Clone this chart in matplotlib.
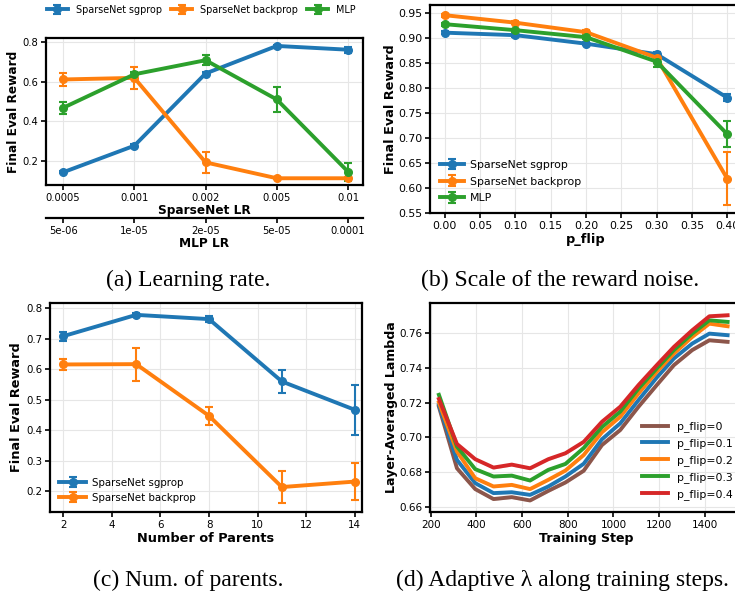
import matplotlib
matplotlib.use('Agg')
import matplotlib.pyplot as plt

W, H = 735, 592
BLUE, ORANGE, GREEN, RED, BROWN = '#1f77b4', '#ff7f0e', '#2ca02c', '#d62728', '#8c564b'

# (a) learning rate sweep
lr_sparse = ['0.0005', '0.001', '0.002', '0.005', '0.01']
lr_mlp = ['5e-06', '1e-05', '2e-05', '5e-05', '0.0001']
lr_sgprop = [0.143, 0.277, 0.641, 0.780, 0.761]
lr_sgprop_err = [0.005, 0.010, 0.010, 0.006, 0.016]
lr_backprop = [0.611, 0.619, 0.193, 0.113, 0.113]
lr_backprop_err = [0.033, 0.055, 0.053, 0.005, 0.005]
lr_mlp_reward = [0.468, 0.637, 0.708, 0.510, 0.146]
lr_mlp_err = [0.029, 0.010, 0.025, 0.063, 0.045]

# (b) reward noise
p_flip = [0.0, 0.1, 0.2, 0.3, 0.4]
noise_sgprop = [0.910, 0.905, 0.888, 0.867, 0.780]
noise_sgprop_err = [0.003, 0.003, 0.003, 0.004, 0.007]
noise_backprop = [0.945, 0.930, 0.911, 0.860, 0.618]
noise_backprop_err = [0.003, 0.003, 0.005, 0.010, 0.053]
noise_mlp = [0.927, 0.915, 0.901, 0.852, 0.707]
noise_mlp_err = [0.003, 0.003, 0.004, 0.010, 0.026]

# (c) number of parents
parents = [2, 5, 8, 11, 14]
par_sgprop = [0.709, 0.779, 0.765, 0.560, 0.467]
par_sgprop_err = [0.015, 0.007, 0.010, 0.038, 0.083]
par_backprop = [0.616, 0.617, 0.447, 0.213, 0.231]
par_backprop_err = [0.018, 0.054, 0.029, 0.054, 0.062]

# (d) layer-averaged lambda over training
steps = [236, 315, 395, 475, 555, 635, 715, 790, 870, 950, 1030, 1110, 1190, 1265, 1345, 1420, 1500]
lam_00 = [0.7176, 0.6824, 0.6705, 0.6648, 0.6659, 0.6640, 0.6695, 0.6743, 0.6810, 0.6957,
          0.7043, 0.7176, 0.7300, 0.7414, 0.7500, 0.7556, 0.7547]
lam_01 = [0.7186, 0.6872, 0.6739, 0.6682, 0.6687, 0.6672, 0.6720, 0.6777, 0.6850, 0.6990,
          0.7081, 0.7214, 0.7343, 0.7452, 0.7537, 0.7594, 0.7585]
lam_02 = [0.7200, 0.6920, 0.6767, 0.6720, 0.6729, 0.6705, 0.6758, 0.6811, 0.6900, 0.7030,
          0.7119, 0.7252, 0.7376, 0.7480, 0.7575, 0.7651, 0.7636]
lam_03 = [0.7244, 0.6948, 0.6819, 0.6777, 0.6782, 0.6754, 0.6815, 0.6849, 0.6940, 0.7060,
          0.7148, 0.7280, 0.7395, 0.7500, 0.7594, 0.7670, 0.7661]
lam_04 = [0.7220, 0.6963, 0.6876, 0.6828, 0.6845, 0.6824, 0.6876, 0.6910, 0.6975, 0.7090,
          0.7176, 0.7300, 0.7414, 0.7518, 0.7613, 0.7693, 0.7699]
lam_series = [lam_00, lam_01, lam_02, lam_03, lam_04]
lam_labels = ['p_flip=0', 'p_flip=0.1', 'p_flip=0.2', 'p_flip=0.3', 'p_flip=0.4']
lam_colors = [BROWN, BLUE, ORANGE, GREEN, RED]
lam_std = [0.0008, 0.0007, 0.0007, 0.0008, 0.0008]

fig = plt.figure(figsize=(W / 100, H / 100), dpi=100)


def add_axes_px(left, top, right, bottom):
    return fig.add_axes([left / W, 1 - bottom / H, (right - left) / W, (bottom - top) / H])


def style(ax, fs):
    for s in ax.spines.values():
        s.set_color('black')
        s.set_linewidth(1.6)
    ax.tick_params(direction='out', length=3.5, width=1.2, labelsize=fs, pad=2)
    ax.grid(True, color='#e6e6e6', linewidth=0.8)
    ax.set_axisbelow(True)


eb = dict(marker='o', markersize=5.5, linewidth=2.8, elinewidth=1.5, capsize=3, capthick=1.5)

# (a)
ax = add_axes_px(46, 38, 363, 185)
style(ax, 7.2)
xa = range(len(lr_sparse))
ax.errorbar(xa, lr_sgprop, yerr=lr_sgprop_err, color=BLUE, label='SparseNet sgprop', **eb)
ax.errorbar(xa, lr_backprop, yerr=lr_backprop_err, color=ORANGE, label='SparseNet backprop', **eb)
ax.errorbar(xa, lr_mlp_reward, yerr=lr_mlp_err, color=GREEN, label='MLP', **eb)
ax.set_xlim(-0.24, 4.21)
ax.set_ylim(0.079, 0.82)
ax.set_xticks(list(xa))
ax.set_xticklabels(lr_sparse)
ax.set_yticks([0.2, 0.4, 0.6, 0.8])
ax.set_xlabel('SparseNet LR', fontsize=8.7, fontweight='bold', labelpad=1)
ax.set_ylabel('Final Eval Reward', fontsize=8.7, fontweight='bold', labelpad=1.5)
ax2 = ax.twiny()
ax2.set_xlim(ax.get_xlim())
ax2.set_xticks(list(xa))
ax2.set_xticklabels(lr_mlp)
ax2.xaxis.set_ticks_position('bottom')
ax2.xaxis.set_label_position('bottom')
ax2.spines['bottom'].set_position(('outward', 24))
for s in ['top', 'left', 'right']:
    ax2.spines[s].set_visible(False)
ax2.spines['bottom'].set_linewidth(1.6)
ax2.tick_params(direction='out', length=3.5, width=1.2, labelsize=7.2, pad=2)
ax2.set_xlabel('MLP LR', fontsize=8.7, fontweight='bold', labelpad=1)
handles, labels = ax.get_legend_handles_labels()
fig.legend(handles, labels, loc='upper left', bbox_to_anchor=(43 / W, 1 - 1 / H),
           ncol=3, frameon=False, fontsize=6.9, borderaxespad=0, handlelength=2.2,
           handletextpad=0.8, columnspacing=1.0)

# (b)
ax = add_axes_px(430, 5, 742, 213)
style(ax, 7.8)
ax.errorbar(p_flip, noise_sgprop, yerr=noise_sgprop_err, color=BLUE, label='SparseNet sgprop', **eb)
ax.errorbar(p_flip, noise_backprop, yerr=noise_backprop_err, color=ORANGE, label='SparseNet backprop', **eb)
ax.errorbar(p_flip, noise_mlp, yerr=noise_mlp_err, color=GREEN, label='MLP', **eb)
ax.set_xlim(-0.021, 0.421)
ax.set_ylim(0.549, 0.9654)
ax.set_xticks([0.0, 0.05, 0.1, 0.15, 0.2, 0.25, 0.3, 0.35, 0.4])
ax.set_yticks([0.55, 0.6, 0.65, 0.7, 0.75, 0.8, 0.85, 0.9, 0.95])
ax.xaxis.set_major_formatter(plt.FuncFormatter(lambda v, _: '{:.2f}'.format(v)))
ax.yaxis.set_major_formatter(plt.FuncFormatter(lambda v, _: '{:.2f}'.format(v)))
ax.set_xlabel('p_flip', fontsize=9.3, fontweight='bold', labelpad=2)
ax.set_ylabel('Final Eval Reward', fontsize=9.3, fontweight='bold', labelpad=1)
ax.legend(loc='lower left', frameon=False, fontsize=7.8, handlelength=2.2,
          handletextpad=0.6, labelspacing=0.62)

# (c)
ax = add_axes_px(50, 303, 362, 512)
style(ax, 7.4)
ax.errorbar(parents, par_sgprop, yerr=par_sgprop_err, color=BLUE, label='SparseNet sgprop', **eb)
ax.errorbar(parents, par_backprop, yerr=par_backprop_err, color=ORANGE, label='SparseNet backprop', **eb)
ax.set_xlim(1.45, 14.3)
ax.set_ylim(0.131, 0.818)
ax.set_xticks([2, 4, 6, 8, 10, 12, 14])
ax.set_yticks([0.2, 0.3, 0.4, 0.5, 0.6, 0.7, 0.8])
ax.set_xlabel('Number of Parents', fontsize=9.3, fontweight='bold', labelpad=2)
ax.set_ylabel('Final Eval Reward', fontsize=9.3, fontweight='bold', labelpad=2)
ax.legend(loc='lower left', frameon=False, fontsize=7.4, handlelength=2.6,
          handletextpad=0.6, labelspacing=0.5)

# (d)
ax = add_axes_px(430, 303, 742, 512)
style(ax, 7.5)
for vals, lab, col, sd in zip(lam_series, lam_labels, lam_colors, lam_std):
    lo = [v - sd for v in vals]
    hi = [v + sd for v in vals]
    ax.fill_between(steps, lo, hi, color=col, alpha=0.25, linewidth=0)
    ax.plot(steps, vals, color=col, linewidth=2.8, label=lab)
ax.set_xlim(197, 1563)
ax.set_ylim(0.6574, 0.7769)
ax.set_xticks([200, 400, 600, 800, 1000, 1200, 1400])
ax.set_yticks([0.66, 0.68, 0.70, 0.72, 0.74, 0.76])
ax.yaxis.set_major_formatter(plt.FuncFormatter(lambda v, _: '{:.2f}'.format(v)))
ax.set_xlabel('Training Step', fontsize=9.1, fontweight='bold', labelpad=2)
ax.set_ylabel('Layer-Averaged Lambda', fontsize=9.1, fontweight='bold', labelpad=1)
ax.legend(loc='lower left', bbox_to_anchor=(638 / W, 88 / H), bbox_transform=fig.transFigure,
          frameon=False, fontsize=7.8, borderaxespad=0, handlelength=2.4,
          handletextpad=0.8, labelspacing=0.55)

# sub-figure captions
cap = dict(fontsize=17, family=['Liberation Serif', 'DejaVu Serif'], ha='center', va='baseline')
fig.text(188 / W, 1 - 286 / H, '(a) Learning rate.', **cap)
fig.text(560 / W, 1 - 286 / H, '(b) Scale of the reward noise.', **cap)
fig.text(188 / W, 1 - 586 / H, '(c) Num. of parents.', **cap)
fig.text(562 / W, 1 - 586 / H, '(d) Adaptive λ along training steps.', **cap)

fig.savefig('out.png', dpi=100)
